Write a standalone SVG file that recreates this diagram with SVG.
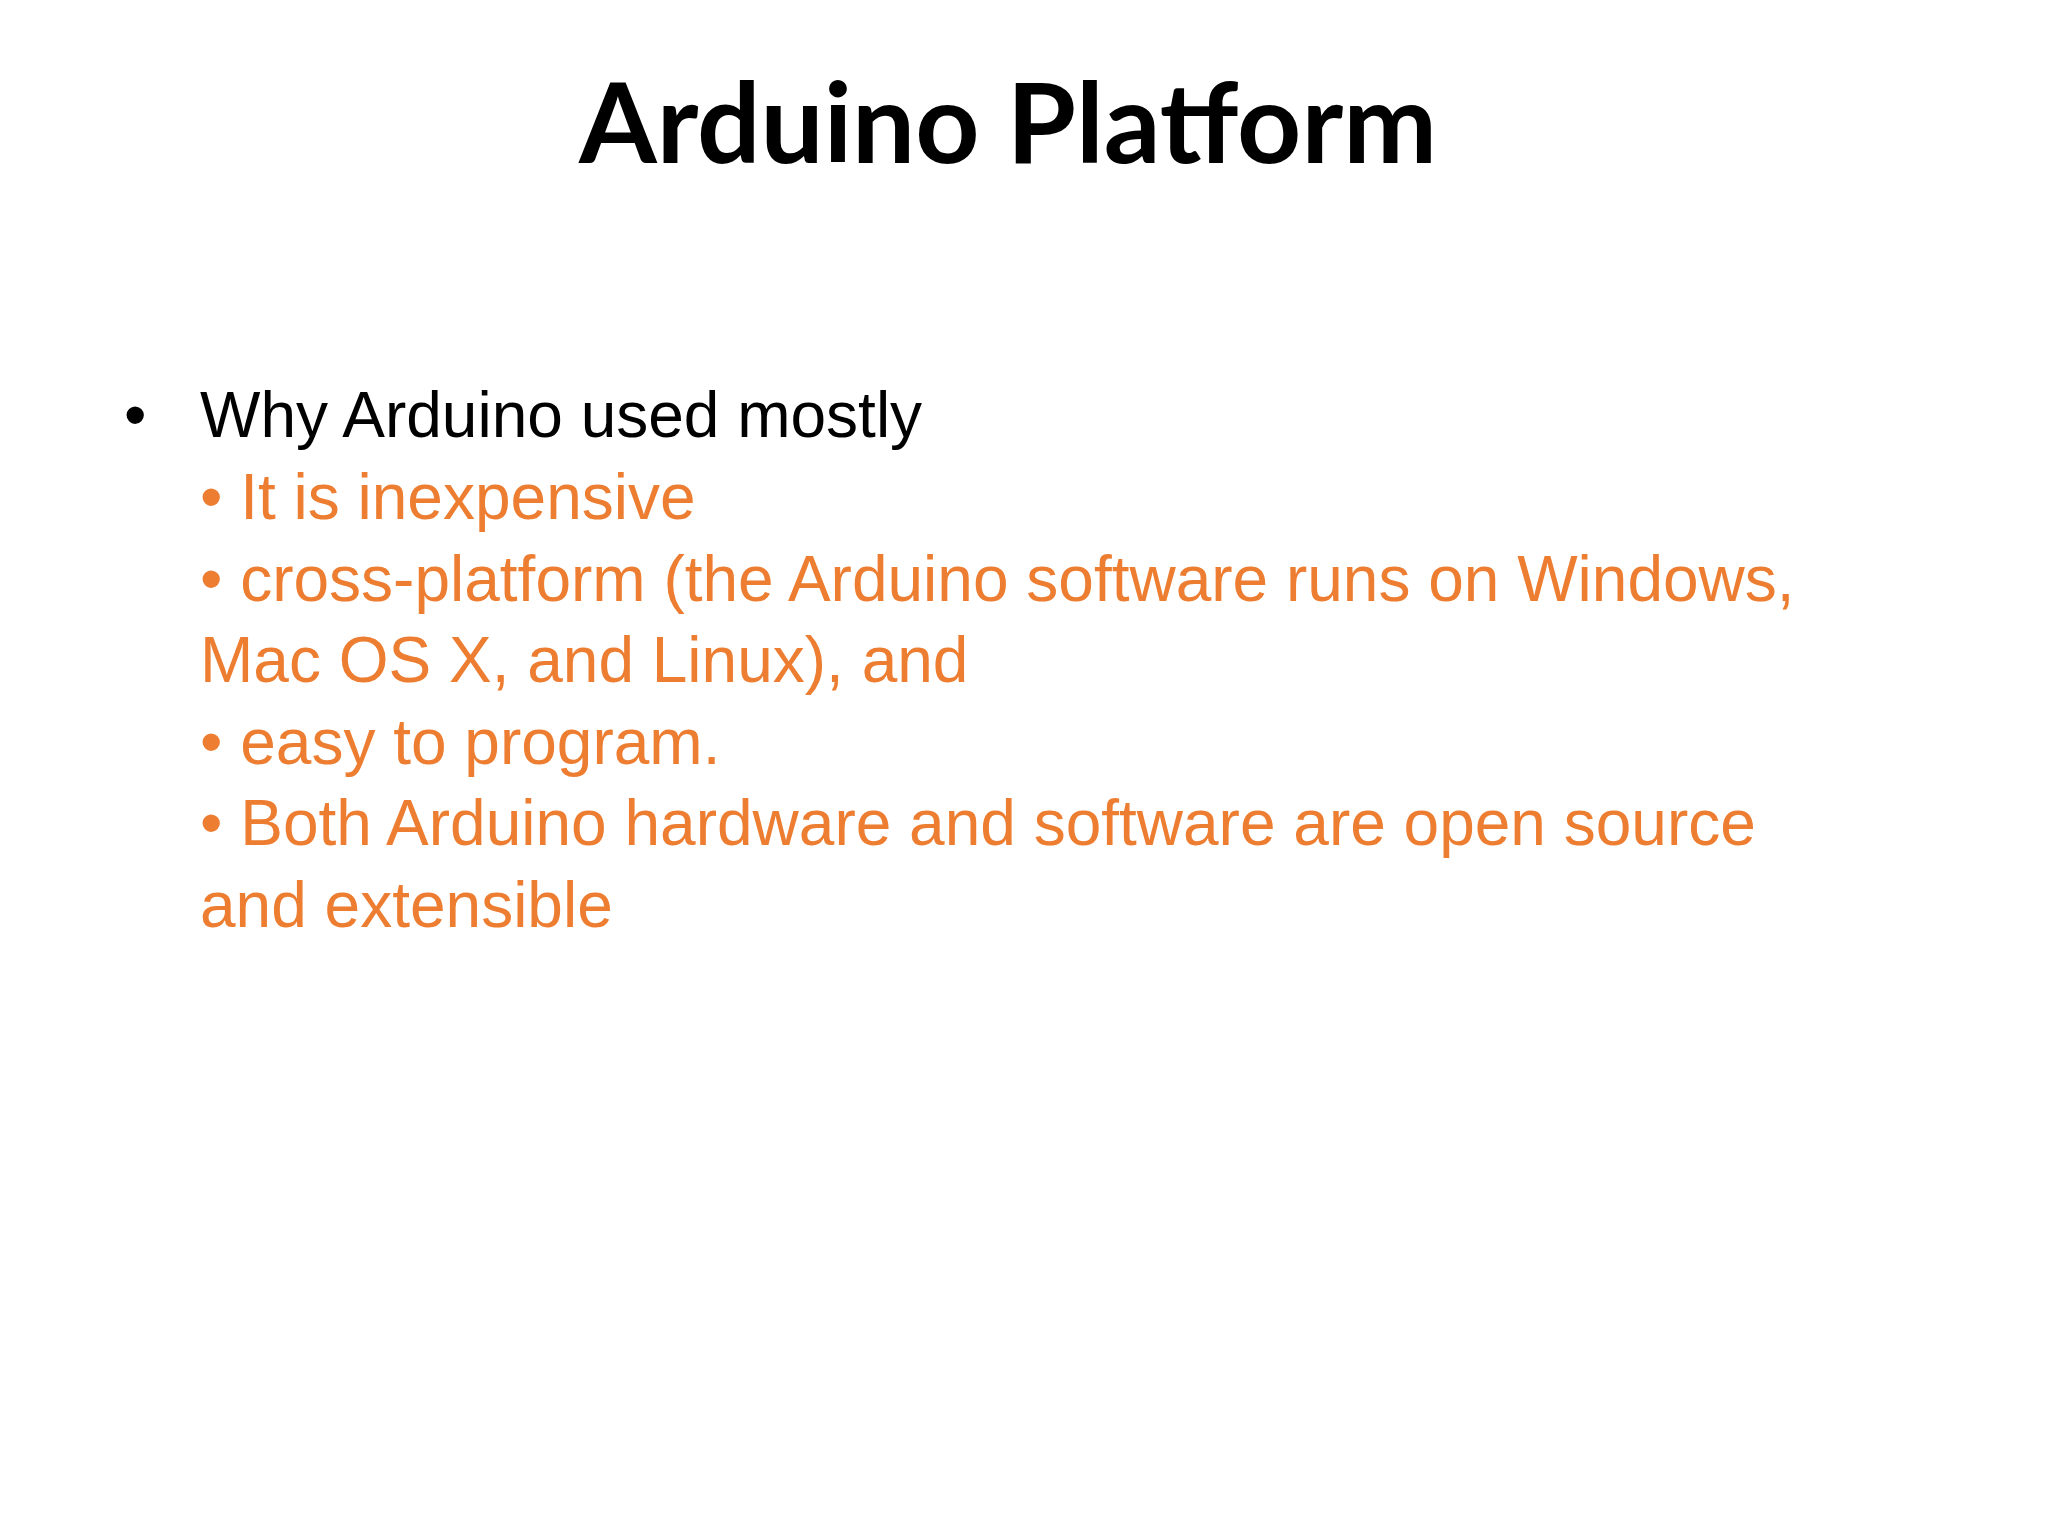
<svg xmlns="http://www.w3.org/2000/svg" width="2048" height="1536" viewBox="0 0 2048 1536">
<style>
.t{font-family:Lato,"Liberation Sans",sans-serif;font-weight:bold;font-size:112px;fill:#000}
.b{font-family:"Liberation Sans",Arial,sans-serif;font-size:64px}
.o{fill:#ED7D31}
</style>
<rect width="2048" height="1536" fill="#fff"/>
<g id="title"><text class="t" x="1008" y="163" text-anchor="middle">Arduino Platform</text></g>
<g id="body">
<text class="b" x="124" y="437">•</text>
<text class="b" x="200" y="437">Why Arduino used mostly</text>
<text class="b o" x="200" y="519">• It is inexpensive</text>
<text class="b o" x="200" y="601">• cross-platform (the Arduino software runs on Windows,</text>
<text class="b o" x="200" y="682">Mac OS X, and Linux), and</text>
<text class="b o" x="200" y="764">• easy to program.</text>
<text class="b o" x="200" y="845">• Both Arduino hardware and software are open source</text>
<text class="b o" x="200" y="927">and extensible</text>
</g>
</svg>
